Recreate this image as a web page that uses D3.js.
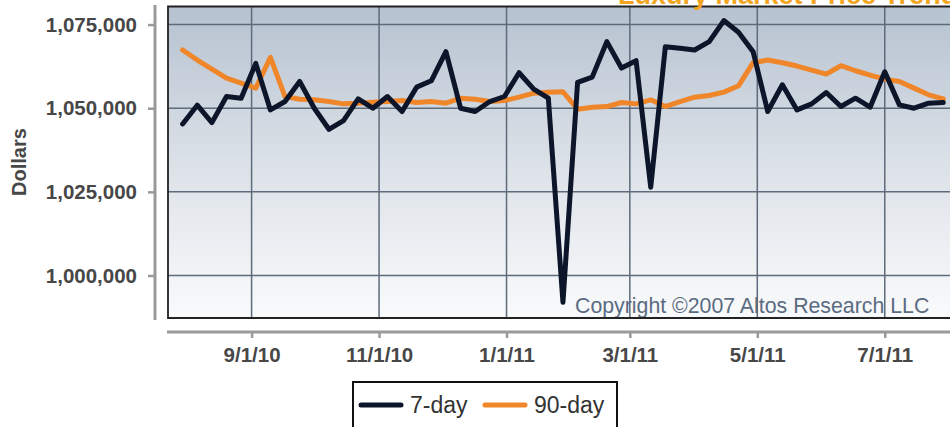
<!DOCTYPE html>
<html>
<head>
<meta charset="utf-8">
<script src="https://cdn.jsdelivr.net/npm/d3@7"></script>
<style>
  html, body { margin: 0; padding: 0; background: #fff; }
  svg { display: block; }
  text { font-family: "Liberation Sans", Arial, sans-serif; }
</style>
</head>
<body>
<svg id="chart" width="950" height="427"></svg>
<script>
// ---- Data ----
const dates = [
  "2010-07-30","2010-08-06","2010-08-13","2010-08-20","2010-08-27",
  "2010-09-03","2010-09-10","2010-09-17","2010-09-24",
  "2010-10-01","2010-10-08","2010-10-15","2010-10-22","2010-10-29",
  "2010-11-05","2010-11-12","2010-11-19","2010-11-26",
  "2010-12-03","2010-12-10","2010-12-17","2010-12-24","2010-12-31",
  "2011-01-07","2011-01-14","2011-01-21","2011-01-28",
  "2011-02-04","2011-02-11","2011-02-18","2011-02-25",
  "2011-03-04","2011-03-11","2011-03-18","2011-03-25",
  "2011-04-01","2011-04-08","2011-04-15","2011-04-22","2011-04-29",
  "2011-05-06","2011-05-13","2011-05-20","2011-05-27",
  "2011-06-03","2011-06-10","2011-06-17","2011-06-24",
  "2011-07-01","2011-07-08","2011-07-15","2011-07-22","2011-07-29"
];
const sevenDay = [
  1045300,1050900,1045700,1053500,1053000,1063400,1049500,1052000,1058000,
  1050000,1043700,1046300,1052800,1050000,1053500,1049000,1056300,1058200,
  1066900,1050000,1049000,1052000,1053500,1060600,1055700,1053000,992000,
  1057700,1059300,1069900,1062000,1064200,1026400,1068400,1067900,1067400,
  1069900,1076200,1072700,1066900,1049000,1057000,1049500,1051300,1054700,
  1050500,1053000,1050300,1060900,1051000,1050000,1051500,1051700
];
const ninetyDay = [
  1067400,1064400,1061700,1059000,1057500,1056000,1065200,1053500,1052700,
  1052500,1052000,1051300,1051500,1051800,1052000,1052300,1051700,1052000,
  1051500,1053000,1052700,1052000,1052300,1053300,1054500,1054800,1054900,
  1049700,1050300,1050500,1051700,1051300,1052500,1050500,1052000,1053300,
  1053800,1054800,1056700,1063600,1064400,1063600,1062600,1061400,1060200,
  1062700,1061200,1059900,1058700,1058000,1056000,1054000,1052800
];
const yTicks = [1000000, 1025000, 1050000, 1075000];
const xTickDates = ["2010-09-01","2010-11-01","2011-01-01","2011-03-01","2011-05-01","2011-07-01"];
const xTickLabels = ["9/1/10","11/1/10","1/1/11","3/1/11","5/1/11","7/1/11"];
const seriesNames = ["7-day", "90-day"];
const titleText = "Luxury Market Price Trends";
const copyrightText = "Copyright \u00A92007 Altos Research LLC";
const yLabel = "Dollars";

// ---- Layout ----
const svg = d3.select("#chart");
const plotL = 168, plotT = 6.5, plotB = 318, plotR = 960;
const parse = d3.utcParse("%Y-%m-%d");

const x = d3.scaleUtc()
  .domain([parse("2010-07-23"), parse("2011-08-06")])
  .range([plotL, plotR]);
const y = d3.scaleLinear()
  .domain([987300, 1080400])
  .range([plotB, plotT]);

// background gradient
const defs = svg.append("defs");
const grad = defs.append("linearGradient").attr("id", "bg")
  .attr("x1", 0).attr("y1", 0).attr("x2", 0).attr("y2", 1);
grad.append("stop").attr("offset", "0%").attr("stop-color", "#b6c2d0");
grad.append("stop").attr("offset", "55%").attr("stop-color", "#dfe4ea");
grad.append("stop").attr("offset", "100%").attr("stop-color", "#f9fafb");

svg.append("rect")
  .attr("x", plotL).attr("y", plotT)
  .attr("width", plotR - plotL).attr("height", plotB - plotT)
  .attr("fill", "url(#bg)");

// grid lines
const gridColor = "#5e6b7b";
svg.append("g").selectAll("line").data(yTicks).join("line")
  .attr("x1", plotL).attr("x2", plotR)
  .attr("y1", d => y(d)).attr("y2", d => y(d))
  .attr("stroke", gridColor).attr("stroke-width", 1.5);
svg.append("g").selectAll("line").data(xTickDates).join("line")
  .attr("x1", d => x(parse(d))).attr("x2", d => x(parse(d)))
  .attr("y1", plotT).attr("y2", plotB)
  .attr("stroke", gridColor).attr("stroke-width", 1.5);

// copyright
svg.append("text")
  .attr("x", 575).attr("y", 312.5)
  .attr("font-size", 21.3).attr("fill", "#5a6b82")
  .text(copyrightText);

// plot border
svg.append("path")
  .attr("d", `M${plotR},${plotT}H${plotL}V${plotB}H${plotR}`)
  .attr("fill", "none").attr("stroke", "#222").attr("stroke-width", 1.8);

// lines
const line = d3.line()
  .x((d, i) => x(parse(dates[i])))
  .y(d => y(d));
svg.append("path").datum(ninetyDay)
  .attr("d", line).attr("fill", "none")
  .attr("stroke", "#f0862a").attr("stroke-width", 5)
  .attr("stroke-linejoin", "round").attr("stroke-linecap", "round");
svg.append("path").datum(sevenDay)
  .attr("d", line).attr("fill", "none")
  .attr("stroke", "#0c1529").attr("stroke-width", 5)
  .attr("stroke-linejoin", "round").attr("stroke-linecap", "round");

// y axis
const yAxisG = svg.append("g").attr("transform", "translate(155,0)")
  .call(d3.axisLeft(y).tickValues(yTicks).tickFormat(d3.format(","))
    .tickSize(7).tickPadding(11));
yAxisG.select(".domain").remove();
yAxisG.selectAll(".tick line").attr("stroke", "#9a9a9a").attr("stroke-width", 2.5);
yAxisG.selectAll(".tick text")
  .attr("font-size", 20.5).attr("font-weight", "bold").attr("fill", "#474747")
  .attr("font-family", "Liberation Sans, Arial, sans-serif");
svg.append("line").attr("x1", 155).attr("x2", 155).attr("y1", 5).attr("y2", 320)
  .attr("stroke", "#9a9a9a").attr("stroke-width", 3);

// x axis
const xAxisG = svg.append("g").attr("transform", "translate(0,332)")
  .call(d3.axisBottom(x).tickValues(xTickDates.map(parse))
    .tickFormat((d, i) => xTickLabels[i]).tickSize(6).tickPadding(9));
xAxisG.select(".domain").remove();
xAxisG.selectAll(".tick line").attr("stroke", "#9a9a9a").attr("stroke-width", 2.5);
xAxisG.selectAll(".tick text")
  .attr("font-size", 20.5).attr("font-weight", "bold").attr("fill", "#474747")
  .attr("font-family", "Liberation Sans, Arial, sans-serif");
svg.append("line").attr("x1", 167).attr("x2", 960).attr("y1", 332).attr("y2", 332)
  .attr("stroke", "#9a9a9a").attr("stroke-width", 3);

// y label
svg.append("text")
  .attr("transform", "translate(26,162) rotate(-90)")
  .attr("text-anchor", "middle")
  .attr("font-size", 20).attr("font-weight", "bold").attr("fill", "#474747")
  .text(yLabel);

// title (cut off at top, as in the reference)
svg.append("text")
  .attr("x", 618).attr("y", 4)
  .attr("font-size", 27).attr("font-weight", "bold").attr("fill", "#f2a51e")
  .text(titleText);

// legend
const lg = svg.append("g");
lg.append("rect").attr("x", 353).attr("y", 382).attr("width", 264).attr("height", 70)
  .attr("fill", "#fff").attr("stroke", "#111").attr("stroke-width", 2);
const legendColors = ["#0c1529", "#f0862a"];
const legendX = [361, 485];
seriesNames.forEach((name, i) => {
  lg.append("line")
    .attr("x1", legendX[i]).attr("x2", legendX[i] + 40)
    .attr("y1", 405).attr("y2", 405)
    .attr("stroke", legendColors[i]).attr("stroke-width", 5)
    .attr("stroke-linecap", "round");
  lg.append("text")
    .attr("x", legendX[i] + 49).attr("y", 413)
    .attr("font-size", 23).attr("fill", "#333")
    .text(name);
});
</script>
</body>
</html>
